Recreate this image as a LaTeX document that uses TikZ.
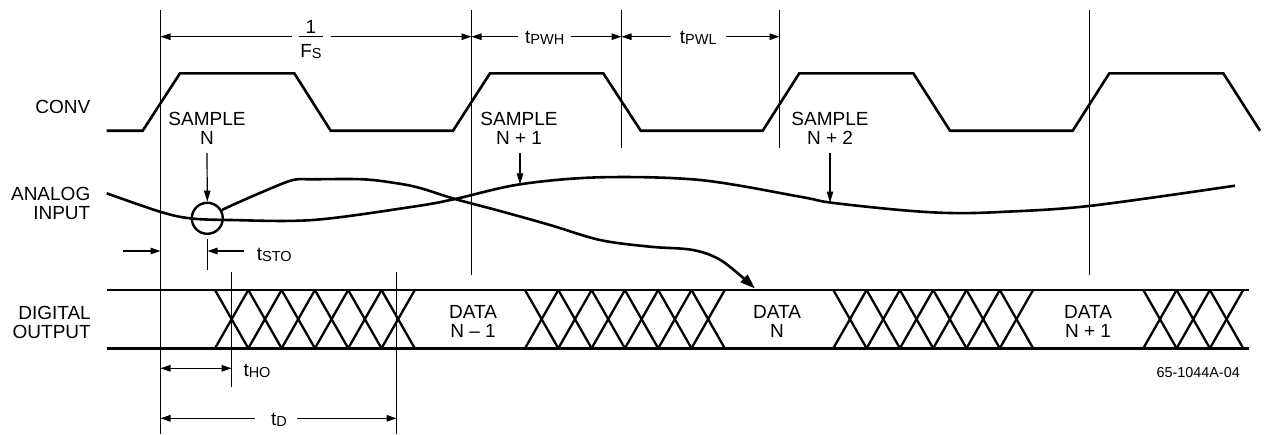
\documentclass[tikz,border=0pt]{standalone}
\usepackage{fontspec}
\setmainfont{Liberation Sans}
\usetikzlibrary{arrows.meta,calc}
\newcommand\tsub[1]{\raisebox{-1.2pt}{\fontsize{14.5}{14.5}\selectfont #1}}
\begin{document}
\begin{tikzpicture}[x=1pt,y=-1pt,
  lbl/.style={font=\fontsize{19}{19}\selectfont, inner sep=0pt, align=center},
  dimlbl/.style={lbl, inner xsep=7pt, inner ysep=0pt},
  sig/.style={line width=2.6pt, line join=miter, line cap=butt},
  xsig/.style={line width=2.3pt},
  thinline/.style={line width=1.1pt},
  tipA/.tip={Triangle[length=10pt,width=6.5pt]},
  dimarr/.style={line width=1.1pt, -tipA},
  dimboth/.style={line width=1.1pt, tipA-tipA},
  smparr/.style={line width=1.2pt, -{Triangle[length=11pt,width=6.5pt]}},
]
\useasboundingbox (0,0) rectangle (1264,434);

% ---- vertical reference lines
\coordinate (v1t) at (160.5,10);  \coordinate (v1b) at (160.5,434);
\coordinate (v2t) at (471.5,10);  \coordinate (v2b) at (471.5,275);
\coordinate (v3t) at (621.5,10);  \coordinate (v3b) at (621.5,148);
\coordinate (v4t) at (779.5,10);  \coordinate (v4b) at (779.5,148);
\coordinate (v5t) at (1089.5,10); \coordinate (v5b) at (1089.5,275);
\coordinate (hot) at (231.5,271.7); \coordinate (hob) at (231.5,386.7);
\coordinate (dt) at (396.5,271.7);  \coordinate (db) at (396.5,434);
\foreach \a/\b in {v1t/v1b,v2t/v2b,v3t/v3b,v4t/v4b,v5t/v5b,hot/hob,dt/db}
  \draw[thinline] (\a) -- (\b);

% ---- row labels
\node[lbl, anchor=east, align=right] (conv) at (90.5,106.7) {CONV};
\node[lbl, anchor=east, align=right] (ana) at (90.5,203.5) {ANALOG\\INPUT};
\node[lbl, anchor=east, align=right] (dig) at (91,322.5) {DIGITAL\\OUTPUT};

% ---- CONV waveform
\draw[sig] (106.7,130.7) -- (142.7,130.7) -- (180,73.3) -- (294.3,73.3) -- (330.7,130.7)
  -- (453,130.7) -- (490,73.3) -- (603.3,73.3) -- (640.7,130.7)
  -- (762.7,130.7) -- (799.3,73.3) -- (913.3,73.3) -- (950,130.7)
  -- (1072.7,130.7) -- (1109.3,73.3) -- (1223.3,73.3) -- (1260,130.7);

% ---- dimension 1/Fs, tPWH, tPWL
\coordinate (dimA) at (0,36.7);
\node[lbl, anchor=base] (one) at (311,33.3) {1};
\node[lbl, anchor=base] (fsd) at (311,57) {F\tsub{S}};
\coordinate (barL) at (299,36.7); \coordinate (barR) at (323,36.7);
\draw[thinline] (barL) -- (barR);
\draw[dimarr] ([xshift=-7pt]barL) -- (v1t |- barL);
\draw[dimarr] ([xshift=8pt]barR) -- (v2t |- barR);
\node[dimlbl, anchor=base] (pwh) at (544.7,43.5) {t\tsub{PWH}};
\draw[dimarr] (pwh.west |- dimA) -- (v2t |- dimA);
\draw[dimarr] (pwh.east |- dimA) -- (v3t |- dimA);
\node[dimlbl, anchor=base, inner xsep=9pt] (pwl) at (698.3,43.5) {t\tsub{PWL}};
\draw[dimarr] (pwl.west |- dimA) -- (v3t |- dimA);
\draw[dimarr] (pwl.east |- dimA) -- (v4t |- dimA);

% ---- sample labels and arrows
\node[lbl] (sN) at (207,128.8) {SAMPLE\\N};
\node[lbl] (sN1) at (519,128.8) {SAMPLE\\N + 1};
\node[lbl] (sN2) at (830,128.8) {SAMPLE\\N + 2};
\node[circle, draw, line width=2.4pt, minimum size=31pt, inner sep=0pt] (circ) at (207.3,218.3) {};
\coordinate (a1) at (520,184.3);
\coordinate (a2) at (830,202.5);
\draw[smparr] ([yshift=-8pt]sN.south) -- (circ.north);
\draw[smparr] ([yshift=-8pt]sN1.south -| a1) -- (a1);
\draw[smparr] ([yshift=-8pt]sN2.south -| a2) -- (a2);

% ---- analog input curve
\draw[sig] plot[smooth, tension=0.55] coordinates {(106.7,193.3) (160,211.7) (190,218.3)
  (230,220) (313,220) (413,206.7) (455,199) (520,184.3) (600,177.3) (700,180)
  (800,196.7) (830,202.5) (900,210) (950,213) (1000,212) (1089,206) (1235,185.7)};

% ---- sampled value travelling to DATA N
\draw[sig, -{Triangle[length=15pt,width=10pt]}] plot[smooth, tension=0.55] coordinates {
  (222,210) (237,203) (267,190) (293,180) (313,179.3) (363,179.3) (397,183.3)
  (420,188) (455,199) (500,211) (550,225) (600,240) (650,246.7) (693,250)
  (722,261) (755,288.5)};

% ---- tSTO
\coordinate (stoL) at (123,251); \coordinate (stoR) at (244,251);
\coordinate (tk1) at (207.5,239); \coordinate (tk2) at (207.5,270);
\draw[dimarr] (stoL) -- (v1t |- stoL);
\draw[dimarr] (stoR) -- (tk1 |- stoR);
\draw[thinline] (tk1) -- (tk2);
\node[lbl, anchor=base west] (tsto) at (256.7,260) {t\tsub{STO}};

% ---- digital output bus
\coordinate (dTL) at (106.7,290);   \coordinate (dTR) at (1249,290);
\coordinate (dBL) at (106.7,348.3); \coordinate (dBR) at (1249,348.3);
\draw[sig] (dTL) -- (dTR);
\draw[sig] (dBL) -- (dBR);
\foreach \s/\n in {215/6,525/6,833.3/6,1143.3/3}{
  \foreach \i in {1,...,\n}{
    \draw[xsig] ({\s+(\i-1)*33.3},290) -- ({\s+\i*33.3},348.3);
    \draw[xsig] ({\s+(\i-1)*33.3},348.3) -- ({\s+\i*33.3},290);
  }
}
\node[lbl] (dN0) at (473,321.5) {DATA\\N – 1};
\node[lbl] (dN) at (777,321.5) {DATA\\N};
\node[lbl] (dN2) at (1088,321.5) {DATA\\N + 1};

% ---- tHO and tD
\coordinate (hoy) at (0,368.3);
\draw[dimboth] (v1t |- hoy) -- (hot |- hoy);
\node[lbl, anchor=base west] (tho) at (243.3,376.7) {t\tsub{HO}};
\coordinate (tdy) at (0,418.3);
\node[lbl, anchor=base] (td) at (279,425) {t\tsub{D}};
\draw[dimarr] ([xshift=-16pt]td.west |- tdy) -- (v1t |- tdy);
\draw[dimarr] ([xshift=10pt]td.east |- tdy) -- (dt |- tdy);

% ---- figure code
\node[anchor=base east, inner sep=0pt, font=\fontsize{14.4}{14.4}\selectfont] (code) at (1240,377.2) {65-1044A-04};
\end{tikzpicture}
\end{document}
